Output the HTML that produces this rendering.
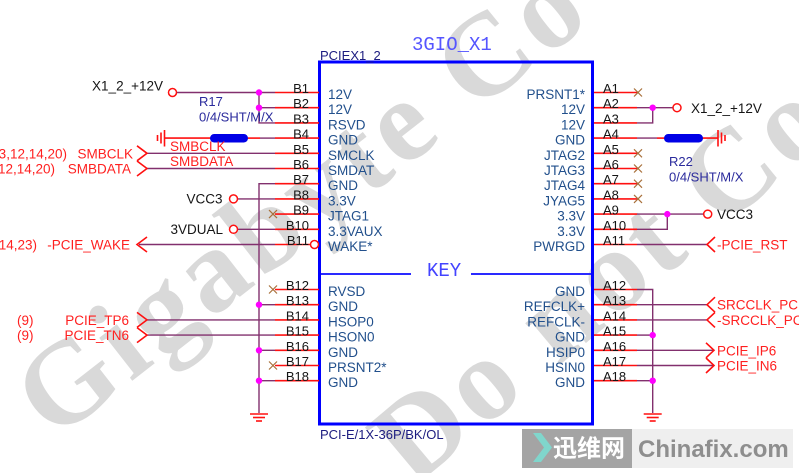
<!DOCTYPE html>
<html><head><meta charset="utf-8"><style>
html,body{margin:0;padding:0;background:#fff;width:799px;height:473px;overflow:hidden;}
svg{display:block;overflow:hidden;}
text{font-family:"Liberation Sans",Arial,sans-serif;}
.wm{font-family:"Liberation Serif",serif;font-weight:bold;font-size:118px;fill:#d9d9d9;letter-spacing:5px;}
.pn{font-size:13px;fill:#151515;}
.il{font-size:13.5px;fill:#22508c;}
.rd{font-size:13.5px;fill:#ff2020;}
.bk{font-size:13.5px;fill:#151515;}
.nv{font-size:13px;fill:#2a2a9c;}
.pin{stroke:#ff1010;stroke-width:1.6;fill:none;}
.w{stroke:#82306e;stroke-width:1.4;fill:none;}
.nc{stroke:#a8703a;stroke-width:1.2;}
.dot{fill:#ff00ff;}
.port{fill:#fff;stroke:#ff1010;stroke-width:1.5;}
</style></head><body>
<svg width="799" height="473" viewBox="0 0 799 473" xmlns="http://www.w3.org/2000/svg">
<defs><clipPath id="cp"><rect x="0" y="0" width="799" height="473"/></clipPath></defs>
<rect width="799" height="473" fill="#fff"/>
<!-- watermarks -->
<svg x="0" y="0" width="799" height="473" overflow="hidden">
<g clip-path="url(#cp)">
<text class="wm" transform="translate(54,442) rotate(-38)">Gigabyte Co</text>
<text class="wm" transform="translate(413,488) rotate(-40)">Do not Co</text>
</g>
</svg>

<!-- box -->
<rect x="319.5" y="62" width="273" height="362" fill="none" stroke="#0000ff" stroke-width="3"/>
<line x1="321" y1="274" x2="411" y2="274" stroke="#2a2aff" stroke-width="2"/>
<line x1="471" y1="274" x2="591" y2="274" stroke="#2a2aff" stroke-width="2"/>
<text x="427" y="276" style="font-family:'Liberation Mono',monospace;font-size:19px;fill:#4444ff">KEY</text>
<text x="412" y="50" style="font-family:'Liberation Mono',monospace;font-size:19px;fill:#5555ff">3GIO_X1</text>
<text x="320" y="60" style="font-size:13px;fill:#1c1c80">PCIEX1_2</text>
<text x="320" y="439" style="font-size:13px;fill:#1c1c80">PCI-E/1X-36P/BK/OL</text>

<!-- left pins -->
<g class="pin">
<line x1="275" y1="92.5" x2="319" y2="92.5"/><line x1="275" y1="107.7" x2="319" y2="107.7"/>
<line x1="275" y1="122.9" x2="319" y2="122.9"/><line x1="275" y1="138.1" x2="319" y2="138.1"/>
<line x1="275" y1="153.3" x2="319" y2="153.3"/><line x1="275" y1="168.5" x2="319" y2="168.5"/>
<line x1="275" y1="183.7" x2="319" y2="183.7"/><line x1="275" y1="198.9" x2="319" y2="198.9"/>
<line x1="275" y1="214.1" x2="319" y2="214.1"/><line x1="275" y1="229.3" x2="319" y2="229.3"/>
<line x1="275" y1="244.5" x2="310.5" y2="244.5"/>
<line x1="275" y1="289.5" x2="319" y2="289.5"/><line x1="275" y1="304.7" x2="319" y2="304.7"/>
<line x1="275" y1="319.9" x2="319" y2="319.9"/><line x1="275" y1="335.1" x2="319" y2="335.1"/>
<line x1="275" y1="350.3" x2="319" y2="350.3"/><line x1="275" y1="365.5" x2="319" y2="365.5"/>
<line x1="275" y1="380.7" x2="319" y2="380.7"/>
</g>
<circle cx="314.5" cy="244.5" r="4" class="port"/>
<!-- right pins -->
<g class="pin">
<line x1="594" y1="92.5" x2="637" y2="92.5"/><line x1="594" y1="107.7" x2="637" y2="107.7"/>
<line x1="594" y1="122.9" x2="637" y2="122.9"/><line x1="594" y1="138.1" x2="637" y2="138.1"/>
<line x1="594" y1="153.3" x2="637" y2="153.3"/><line x1="594" y1="168.5" x2="637" y2="168.5"/>
<line x1="594" y1="183.7" x2="637" y2="183.7"/><line x1="594" y1="198.9" x2="637" y2="198.9"/>
<line x1="594" y1="214.1" x2="637" y2="214.1"/><line x1="594" y1="229.3" x2="637" y2="229.3"/>
<line x1="594" y1="244.5" x2="637" y2="244.5"/>
<line x1="594" y1="289.5" x2="637" y2="289.5"/><line x1="594" y1="304.7" x2="637" y2="304.7"/>
<line x1="594" y1="319.9" x2="637" y2="319.9"/><line x1="594" y1="335.1" x2="637" y2="335.1"/>
<line x1="594" y1="350.3" x2="637" y2="350.3"/><line x1="594" y1="365.5" x2="637" y2="365.5"/>
<line x1="594" y1="380.7" x2="637" y2="380.7"/>
</g>

<!-- pin numbers left -->
<g class="pn" text-anchor="end">
<text x="309" y="93">B1</text><text x="309" y="108.2">B2</text><text x="309" y="123.4">B3</text>
<text x="309" y="138.6">B4</text><text x="309" y="153.8">B5</text><text x="309" y="169">B6</text>
<text x="309" y="184.2">B7</text><text x="309" y="199.4">B8</text><text x="309" y="214.6">B9</text>
<text x="309" y="229.8">B10</text><text x="309" y="245">B11</text>
<text x="309" y="290">B12</text><text x="309" y="305.2">B13</text><text x="309" y="320.4">B14</text>
<text x="309" y="335.6">B15</text><text x="309" y="350.8">B16</text><text x="309" y="366">B17</text>
<text x="309" y="381.2">B18</text>
</g>
<!-- pin numbers right -->
<g class="pn">
<text x="603" y="93">A1</text><text x="603" y="108.2">A2</text><text x="603" y="123.4">A3</text>
<text x="603" y="138.6">A4</text><text x="603" y="153.8">A5</text><text x="603" y="169">A6</text>
<text x="603" y="184.2">A7</text><text x="603" y="199.4">A8</text><text x="603" y="214.6">A9</text>
<text x="603" y="229.8">A10</text><text x="603" y="245">A11</text>
<text x="603" y="290">A12</text><text x="603" y="305.2">A13</text><text x="603" y="320.4">A14</text>
<text x="603" y="335.6">A15</text><text x="603" y="350.8">A16</text><text x="603" y="366">A17</text>
<text x="603" y="381.2">A18</text>
</g>

<!-- inside labels left -->
<g class="il">
<text x="328" y="99">12V</text><text x="328" y="114.2">12V</text><text x="328" y="129.4">RSVD</text>
<text x="328" y="144.6">GND</text><text x="328" y="159.8">SMCLK</text><text x="328" y="175">SMDAT</text>
<text x="328" y="190.2">GND</text><text x="328" y="205.4">3.3V</text><text x="328" y="220.6">JTAG1</text>
<text x="328" y="235.8">3.3VAUX</text><text x="328" y="251">WAKE*</text>
<text x="328" y="296">RVSD</text><text x="328" y="311.2">GND</text><text x="328" y="326.4">HSOP0</text>
<text x="328" y="341.6">HSON0</text><text x="328" y="356.8">GND</text><text x="328" y="372">PRSNT2*</text>
<text x="328" y="387.2">GND</text>
</g>
<!-- inside labels right -->
<g class="il" text-anchor="end">
<text x="585" y="99">PRSNT1*</text><text x="585" y="114.2">12V</text><text x="585" y="129.4">12V</text>
<text x="585" y="144.6">GND</text><text x="585" y="159.8">JTAG2</text><text x="585" y="175">JTAG3</text>
<text x="585" y="190.2">JTAG4</text><text x="585" y="205.4">JYAG5</text><text x="585" y="220.6">3.3V</text>
<text x="585" y="235.8">3.3V</text><text x="585" y="251">PWRGD</text>
<text x="585" y="296">GND</text><text x="585" y="311.2">REFCLK+</text><text x="585" y="326.4">REFCLK-</text>
<text x="585" y="341.6">GND</text><text x="585" y="356.8">HSIP0</text><text x="585" y="372">HSIN0</text>
<text x="585" y="387.2">GND</text>
</g>

<!-- left wires -->
<g class="w">
<line x1="176.5" y1="92.5" x2="275" y2="92.5"/>
<line x1="259" y1="107.7" x2="275" y2="107.7"/>
<polyline points="259,92.5 259,122.9 275,122.9"/>
<line x1="260" y1="138.1" x2="275" y2="138.1"/>
<line x1="147" y1="153.3" x2="275" y2="153.3"/>
<line x1="147" y1="168.5" x2="275" y2="168.5"/>
<polyline points="275,183.7 259,183.7 259,413"/>
<line x1="237.5" y1="198.9" x2="275" y2="198.9"/>
<line x1="237.5" y1="229.3" x2="275" y2="229.3"/>
<line x1="139" y1="244.5" x2="275" y2="244.5"/>
<line x1="259" y1="304.7" x2="275" y2="304.7"/>
<line x1="147" y1="319.9" x2="275" y2="319.9"/>
<line x1="147" y1="335.1" x2="275" y2="335.1"/>
<line x1="259" y1="350.3" x2="275" y2="350.3"/>
<line x1="259" y1="380.7" x2="275" y2="380.7"/>
</g>
<!-- right wires -->
<g class="w">
<line x1="637" y1="107.7" x2="673" y2="107.7"/>
<polyline points="637,122.9 652.7,122.9 652.7,107.7"/>
<line x1="637" y1="138.1" x2="657" y2="138.1"/>
<line x1="637" y1="214.1" x2="703.7" y2="214.1"/>
<polyline points="637,229.3 667.3,229.3 667.3,214.1"/>
<line x1="637" y1="244.5" x2="707" y2="244.5"/>
<polyline points="637,289.5 652.7,289.5 652.7,413"/>
<line x1="637" y1="304.7" x2="707" y2="304.7"/>
<line x1="637" y1="319.9" x2="707" y2="319.9"/>
<line x1="637" y1="335.1" x2="652.7" y2="335.1"/>
<line x1="637" y1="350.3" x2="714" y2="350.3"/>
<line x1="637" y1="365.5" x2="714" y2="365.5"/>
<line x1="637" y1="380.7" x2="652.7" y2="380.7"/>
</g>

<!-- resistors & side grounds -->
<g class="pin">
<line x1="165" y1="138.1" x2="212" y2="138.1"/>
<line x1="246" y1="138.1" x2="260" y2="138.1"/>
<line x1="164.5" y1="130" x2="164.5" y2="146.5"/>
<line x1="161" y1="132.5" x2="161" y2="143.5"/>
<line x1="157.5" y1="135" x2="157.5" y2="141"/>
<line x1="657" y1="138.1" x2="666" y2="138.1"/>
<line x1="701" y1="138.1" x2="718" y2="138.1"/>
<line x1="718" y1="130" x2="718" y2="146.5"/>
<line x1="721.5" y1="132.5" x2="721.5" y2="143.5"/>
<line x1="725" y1="135" x2="725" y2="141"/>
<!-- bottom grounds -->
<line x1="250" y1="414" x2="268" y2="414"/>
<line x1="253" y1="417.5" x2="265" y2="417.5"/>
<line x1="256" y1="421" x2="262" y2="421"/>
<line x1="643.7" y1="414" x2="661.7" y2="414"/>
<line x1="646.7" y1="417.5" x2="658.7" y2="417.5"/>
<line x1="649.7" y1="421" x2="655.7" y2="421"/>
</g>
<rect x="210" y="134" width="38" height="8.5" rx="4.2" fill="#0000e6"/>
<rect x="664" y="134" width="39" height="8.5" rx="4.2" fill="#0000e6"/>

<!-- junction dots -->
<g class="dot">
<circle cx="259" cy="92.5" r="3.2"/><circle cx="259" cy="107.7" r="3.2"/>
<circle cx="259" cy="304.7" r="3.2"/><circle cx="259" cy="350.3" r="3.2"/><circle cx="259" cy="380.7" r="3.2"/>
<circle cx="652.7" cy="107.7" r="3.2"/><circle cx="667.3" cy="214.1" r="3.2"/>
<circle cx="652.7" cy="335.1" r="3.2"/><circle cx="652.7" cy="380.7" r="3.2"/>
</g>

<!-- power ports -->
<circle cx="172.5" cy="92.5" r="4" class="port"/>
<circle cx="233.5" cy="198.9" r="4" class="port"/>
<circle cx="233.5" cy="229.3" r="4" class="port"/>
<circle cx="677" cy="107.7" r="4" class="port"/>
<circle cx="707.7" cy="214.1" r="4" class="port"/>

<!-- NC marks -->
<g class="nc">
<path d="M269,210.1 L277,218.1 M269,218.1 L277,210.1"/>
<path d="M269,285.5 L277,293.5 M269,293.5 L277,285.5"/>
<path d="M269,361.5 L277,369.5 M269,369.5 L277,361.5"/>
<path d="M634,88.5 L642,96.5 M634,96.5 L642,88.5"/>
<path d="M634,149.3 L642,157.3 M634,157.3 L642,149.3"/>
<path d="M634,164.5 L642,172.5 M634,172.5 L642,164.5"/>
<path d="M634,179.7 L642,187.7 M634,187.7 L642,179.7"/>
<path d="M634,194.9 L642,202.9 M634,202.9 L642,194.9"/>
</g>

<!-- port shapes -->
<g class="pin">
<polyline points="137,145.8 147,153.3 137,160.8"/>
<polyline points="137,161 147,168.5 137,176"/>
<polyline points="147,237 137,244.5 147,252"/>
<polyline points="137,312.4 147,319.9 137,327.4"/>
<polyline points="137,327.6 147,335.1 137,342.6"/>
<polyline points="715,237 707,244.5 715,252"/>
<polyline points="715,297.2 707,304.7 715,312.2"/>
<polyline points="715,312.4 707,319.9 715,327.4"/>
<polyline points="706,342.8 714,350.3 706,357.8"/>
<polyline points="706,358 714,365.5 706,373"/>
</g>

<!-- left labels -->
<text x="163" y="90.5" class="bk" text-anchor="end">X1_2_+12V</text>
<text x="199" y="106" class="nv">R17</text>
<text x="199" y="121.5" class="nv">0/4/SHT/M/X</text>
<text x="170" y="151" class="rd">SMBCLK</text>
<text x="170" y="166" class="rd">SMBDATA</text>
<text x="133" y="158.3" class="rd" text-anchor="end">SMBCLK</text>
<text x="67" y="158.3" class="rd" text-anchor="end">(3,12,14,20)</text>
<text x="131" y="173.5" class="rd" text-anchor="end">SMBDATA</text>
<text x="55" y="173.5" class="rd" text-anchor="end">(3,12,14,20)</text>
<text x="222.5" y="203.5" class="bk" text-anchor="end">VCC3</text>
<text x="223" y="234" class="bk" text-anchor="end">3VDUAL</text>
<text x="130" y="249.5" class="rd" text-anchor="end">-PCIE_WAKE</text>
<text x="37" y="249.5" class="rd" text-anchor="end">(12,14,23)</text>
<text x="129" y="324.9" class="rd" text-anchor="end">PCIE_TP6</text>
<text x="17" y="324.9" class="rd">(9)</text>
<text x="129" y="340.1" class="rd" text-anchor="end">PCIE_TN6</text>
<text x="17" y="340.1" class="rd">(9)</text>

<!-- right labels -->
<text x="691" y="113" class="bk">X1_2_+12V</text>
<text x="669" y="166" class="nv">R22</text>
<text x="669" y="181.5" class="nv">0/4/SHT/M/X</text>
<text x="717" y="219" class="bk">VCC3</text>
<text x="717" y="249.5" class="rd">-PCIE_RST</text>
<text x="717" y="309.7" class="rd">SRCCLK_PCIE6</text>
<text x="717" y="324.9" class="rd">-SRCCLK_PCIE6</text>
<text x="717" y="355.3" class="rd">PCIE_IP6</text>
<text x="717" y="370.5" class="rd">PCIE_IN6</text>

<!-- logo -->
<rect x="522" y="429" width="110" height="39" fill="#a4a4a4"/>
<rect x="632" y="429" width="161" height="39" fill="#efefef"/>
<polygon points="533,433 541,433 552,447.5 541,462 533,462 544,447.5" fill="#80d6cc"/>
<text x="553" y="456.5" style="font-family:'Liberation Sans','Noto Sans CJK SC',sans-serif;font-size:24px;font-weight:bold;fill:#ffffff">迅维网</text>
<text x="638" y="457" style="font-size:24px;font-weight:bold;fill:#8e8e8e">Chinafix.com</text>
</svg>
</body></html>
